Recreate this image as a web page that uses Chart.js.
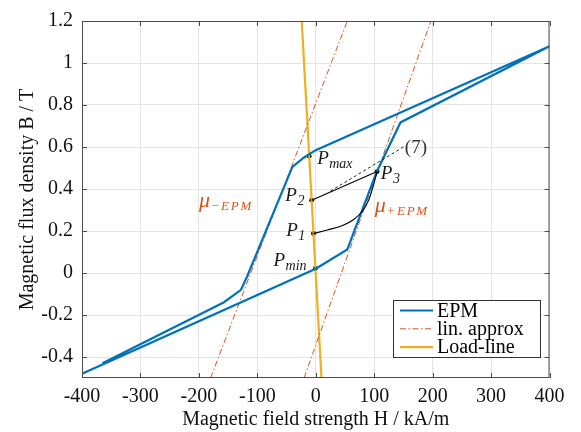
<!DOCTYPE html>
<html>
<head>
<meta charset="utf-8">
<script src="https://cdn.jsdelivr.net/npm/chart.js@4.4.0/dist/chart.umd.min.js"></script>
<style>
  html, body { margin: 0; padding: 0; background: #fff; }
  #wrap { width: 581px; height: 432px; }
</style>
</head>
<body>
<div id="wrap"><canvas id="chart"></canvas></div>
<script>
// axis ticks
const xTicks = [-400, -300, -200, -100, 0, 100, 200, 300, 400];
const yTicks = [-0.4, -0.2, 0, 0.2, 0.4, 0.6, 0.8, 1, 1.2];

// EPM major loop: ascending branch, then descending branch
const epmH = [-400, 0, 54, 104, 145, 400, 0, -20, -40, -118, -128, -157, -365];
const epmB = [-0.48, 0.02, 0.112, 0.48, 0.717, 1.08, 0.585, 0.55, 0.505, -0.02, -0.08, -0.139, -0.43];

// linear approximations mu-EPM and mu+EPM
const linNegH = [-180, 54];
const linNegB = [-0.5, 1.2];
const linPosH = [-20, 197];
const linPosB = [-0.5, 1.2];

// load line
const loadH = [-24, 9.8];
const loadB = [1.2, -0.5];

// operating point paths
const pathP2H = [-7, 105];
const pathP2B = [0.347, 0.483];
const pathP1H = [-3.9, 20, 45, 65, 80, 91, 100, 105];
const pathP1B = [0.188, 0.205, 0.225, 0.255, 0.295, 0.35, 0.43, 0.483];
const eq7H = [25, 151];
const eq7B = [0.39, 0.602];

// marked points Pmax, P2, P1, Pmin, P3
const pointH = [-11.2, -7, -3.9, -0.6, 105];
const pointB = [0.556, 0.347, 0.188, 0.022, 0.483];

const BLUE = '#0072BD';
const ORANGE = '#D95319';
const YELLOW = '#EDB120';
const SERIF = '"Liberation Serif", "Times New Roman", serif';

const toXY = (hs, bs) => hs.map((h, i) => ({ x: h, y: bs[i] }));

// text next to the curves, placed in data units
const pointLabels = [
    { sub: 'max', h: 2.4, b: 0.517 },
    { sub: '2', h: -52, b: 0.343 },
    { sub: '1', h: -50.6, b: 0.177 },
    { sub: 'min', h: -72.4, b: 0.031 },
    { sub: '3', h: 111.3, b: 0.448 }
];
const muLabels = [
    { sub: '\u2212EPM', h: -200, b: 0.315 },
    { sub: '+EPM', h: 101, b: 0.29 }
];

function drawWithSub(ctx, px, py, main, sub, color, mainFont, subFont, drop, spacing) {
    ctx.fillStyle = color;
    ctx.font = mainFont;
    ctx.fillText(main, px, py);
    const w = ctx.measureText(main).width;
    ctx.font = subFont;
    ctx.letterSpacing = spacing || '0px';
    ctx.fillText(sub, px + w + 0.5, py + drop);
    ctx.letterSpacing = '0px';
}

const decorPlugin = {
    id: 'decor',
    afterDatasetsDraw(chart) {
        const { ctx, chartArea: a, scales: { x, y } } = chart;
        ctx.save();

        // box with inward ticks
        ctx.strokeStyle = '#4a4a4a';
        ctx.lineWidth = 1;
        ctx.strokeRect(a.left + 0.5, a.top + 0.5, a.width - 1, a.height - 1);
        ctx.beginPath();
        xTicks.forEach(v => {
            const px = Math.round(x.getPixelForValue(v)) + 0.5;
            ctx.moveTo(px, a.bottom); ctx.lineTo(px, a.bottom - 5);
            ctx.moveTo(px, a.top); ctx.lineTo(px, a.top + 5);
        });
        yTicks.forEach(v => {
            const py = Math.round(y.getPixelForValue(v)) + 0.5;
            ctx.moveTo(a.left, py); ctx.lineTo(a.left + 5, py);
            ctx.moveTo(a.right, py); ctx.lineTo(a.right - 5, py);
        });
        ctx.stroke();

        // point names
        ctx.textBaseline = 'alphabetic';
        ctx.textAlign = 'left';
        pointLabels.forEach(l => {
            drawWithSub(ctx, x.getPixelForValue(l.h), y.getPixelForValue(l.b), 'P', l.sub, '#1a1a1a',
                `italic 19px ${SERIF}`, `italic 14px ${SERIF}`, 4);
        });

        // permeability labels
        muLabels.forEach(l => {
            drawWithSub(ctx, x.getPixelForValue(l.h), y.getPixelForValue(l.b), '\u03bc', l.sub, ORANGE,
                `italic 22px ${SERIF}`, `italic 13px ${SERIF}`, 3, '1.8px');
        });

        // equation reference
        ctx.fillStyle = '#333';
        ctx.font = `19px ${SERIF}`;
        ctx.fillText('(7)', x.getPixelForValue(152.5), y.getPixelForValue(0.57));

        ctx.restore();
    },
    afterDraw(chart) {
        const { ctx } = chart;
        const items = chart.data.datasets.filter(d => d.inLegend);
        const left = 393, top = 300, w = 147, h = 57;
        ctx.save();
        ctx.fillStyle = '#fff';
        ctx.fillRect(left, top, w, h);
        ctx.strokeStyle = '#333';
        ctx.lineWidth = 1;
        ctx.strokeRect(left + 0.5, top + 0.5, w, h);
        ctx.font = `20px ${SERIF}`;
        ctx.textBaseline = 'middle';
        items.forEach((d, i) => {
            const cy = top + 10.5 + i * 18.3;
            ctx.strokeStyle = d.borderColor;
            ctx.lineWidth = d.borderWidth;
            ctx.setLineDash(d.borderDash || []);
            ctx.beginPath();
            ctx.moveTo(left + 7, cy);
            ctx.lineTo(left + 40, cy);
            ctx.stroke();
            ctx.setLineDash([]);
            ctx.fillStyle = '#000';
            ctx.fillText(d.label, left + 44, cy + 1);
        });
        ctx.restore();
    }
};

const line = (label, data, color, width, extra) => Object.assign({
    label: label,
    data: data,
    showLine: true,
    borderColor: color,
    backgroundColor: color,
    borderWidth: width,
    pointRadius: 0,
    pointHoverRadius: 0,
    tension: 0
}, extra || {});

new Chart(document.getElementById('chart'), {
    type: 'scatter',
    data: {
        datasets: [
            line('(7)', toXY(eq7H, eq7B), '#111', 0.9, { borderDash: [3, 2.5] }),
            line('P2-P3', toXY(pathP2H, pathP2B), '#000', 1.1),
            line('P1-P3', toXY(pathP1H, pathP1B), '#000', 1.1, { cubicInterpolationMode: 'monotone' }),
            line('EPM', toXY(epmH, epmB), BLUE, 2.2, { inLegend: true }),
            line('lin. approx', toXY(linNegH, linNegB), ORANGE, 1, { borderDash: [6, 2.5, 1.5, 2.5], inLegend: true }),
            line('lin. approx +', toXY(linPosH, linPosB), ORANGE, 1, { borderDash: [6, 2.5, 1.5, 2.5] }),
            line('Load-line', toXY(loadH, loadB), YELLOW, 2.2, { inLegend: true }),
            {
                label: 'points',
                data: toXY(pointH, pointB),
                showLine: false,
                pointRadius: 2.4,
                pointBackgroundColor: '#000',
                pointBorderWidth: 0
            }
        ]
    },
    options: {
        responsive: true,
        maintainAspectRatio: false,
        animation: false,
        devicePixelRatio: 1,
        layout: { padding: { left: 0, top: 11, right: 31.5, bottom: 0 } },
        plugins: {
            legend: { display: false },
            tooltip: { enabled: false }
        },
        scales: {
            x: {
                type: 'linear',
                min: -400,
                max: 400,
                afterBuildTicks: s => { s.ticks = xTicks.map(v => ({ value: v })); },
                afterFit: s => { s.height = 54; },
                ticks: {
                    callback: v => String(v),
                    font: { family: SERIF, size: 20 },
                    color: '#111',
                    padding: 7,
                    maxRotation: 0,
                    autoSkip: false
                },
                title: {
                    display: true,
                    text: 'Magnetic field strength H / kA/m',
                    font: { family: SERIF, size: 20 },
                    color: '#111',
                    padding: { top: 0, bottom: 0 }
                },
                grid: { color: '#e4e4e4', drawTicks: false },
                border: { display: false }
            },
            y: {
                type: 'linear',
                min: -0.5,
                max: 1.2,
                afterBuildTicks: s => { s.ticks = yTicks.map(v => ({ value: v })); },
                afterFit: s => { s.width = 82; },
                ticks: {
                    callback: v => String(v),
                    font: { family: SERIF, size: 20 },
                    color: '#111',
                    padding: 9,
                    autoSkip: false
                },
                title: {
                    display: true,
                    text: 'Magnetic flux density B / T',
                    font: { family: SERIF, size: 20 },
                    color: '#111',
                    padding: { top: 16, bottom: 0 }
                },
                grid: { color: '#e4e4e4', drawTicks: false },
                border: { display: false }
            }
        }
    },
    plugins: [decorPlugin]
});
</script>
</body>
</html>
